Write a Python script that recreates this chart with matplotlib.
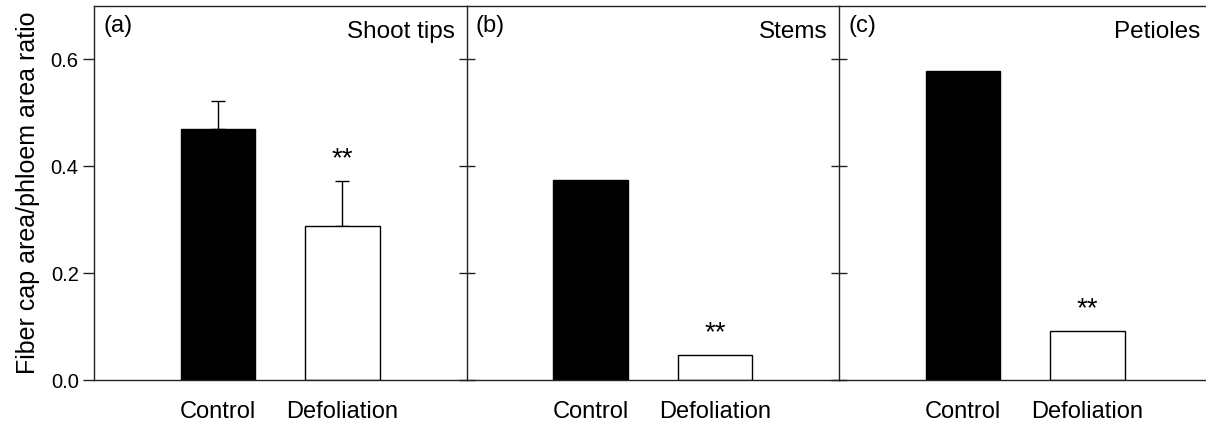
import matplotlib.pyplot as plt

plt.rcParams['font.family'] = ['Liberation Sans', 'DejaVu Sans']

# bar data, one entry per panel
panels = ['(a)', '(b)', '(c)']
tissues = ['Shoot tips', 'Stems', 'Petioles']
groups = ['Control', 'Defoliation']
control = [0.469, 0.374, 0.579]
defoliation = [0.289, 0.047, 0.091]
control_err = [0.054, 0.0, 0.0]
defoliation_err = [0.084, 0.0, 0.0]
signif = ['**', '**', '**']
yticks = [0.0, 0.2, 0.4, 0.6]

fig = plt.figure(figsize=(12.06, 4.21), dpi=100)

left, bottom, top = 94 / 1206, 1 - 380 / 421, 1 - 6 / 421
w = 372.5 / 1206
edge = '#222222'

for i in range(3):
    ax = fig.add_axes([left + i * w, bottom, w, top - bottom])
    vals = [control[i], defoliation[i]]
    errs = [control_err[i], defoliation_err[i]]
    ax.bar([0, 1], vals, width=0.6, color=['black', 'white'],
           edgecolor='black', linewidth=1.0, zorder=2)
    for x, v, e in zip([0, 1], vals, errs):
        if e > 0:
            ax.errorbar(x, v, yerr=[[0], [e]], fmt='none', ecolor='black',
                        elinewidth=1.0, capsize=5, capthick=1.0, zorder=1)
    top_d = defoliation[i] + defoliation_err[i]
    ax.text(1, top_d + 0.028, signif[i], ha='center', va='baseline',
            fontsize=20)

    ax.set_xlim(-1, 2)
    ax.set_ylim(0, 0.7)
    ax.set_xticks([0, 1])
    ax.set_xticklabels(groups, fontsize=17)
    ax.tick_params(axis='x', length=0, pad=15)
    ax.set_yticks(yticks)
    if i == 0:
        ax.set_yticklabels([f'{t:.1f}' for t in yticks], fontsize=14.5)
        ax.tick_params(axis='y', direction='out', length=8, width=1,
                       color=edge, pad=3)
        ax.set_ylabel('Fiber cap area/phloem area ratio', fontsize=18,
                      labelpad=8)
    else:
        ax.set_yticklabels([])
        ax.tick_params(axis='y', direction='inout', length=12, width=1,
                       color=edge)

    for s in ['left', 'bottom', 'top']:
        ax.spines[s].set_color(edge)
        ax.spines[s].set_linewidth(1.0)
    ax.spines['right'].set_visible(False)

    ax.text(0.025, 0.975, panels[i], transform=ax.transAxes, ha='left',
            va='top', fontsize=17)
    ax.text(0.97, 0.96, tissues[i], transform=ax.transAxes, ha='right',
            va='top', fontsize=17.5)

fig.savefig('out.png', dpi=100)
